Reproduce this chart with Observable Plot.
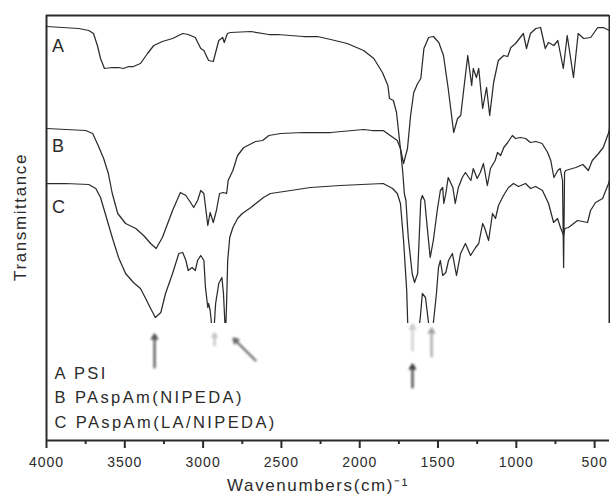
<!DOCTYPE html>
<html>
<head>
<meta charset="utf-8">
<script src="https://cdn.jsdelivr.net/npm/d3@7"></script>
<script src="https://cdn.jsdelivr.net/npm/@observablehq/plot@0.6"></script>
<style>
  html, body { margin: 0; padding: 0; background: #fff; overflow: hidden; }
  svg text { font-family: "Liberation Sans", Arial, sans-serif; }
  g[aria-label="arrow"] { filter: blur(1.1px); }
</style>
</head>
<body>
<div id="chart"></div>
<script>
// Wavenumber axis
const majorTicks = [4000, 3500, 3000, 2500, 2000, 1500, 1000, 500];
const minorTicks = [3750, 3250, 2750, 2250, 1750, 1250, 750];

// Spectrum A: PSI  [wavenumber (cm-1), transmittance (a.u., offset)]
const curveA = [
  [4000,414],[3795,412],[3730,410],[3700,407],[3675,395],[3655,382],[3630,372],[3580,373],[3540,373],
  [3510,372],[3475,374],[3445,374],[3400,377],[3355,387],[3315,395],[3260,399],[3195,402],[3130,407],
  [3095,406],[3050,403],[3015,392],[2995,390],[2965,380],[2935,379],[2920,388],[2900,400],[2875,403],
  [2865,398],[2845,407],[2825,408],[2695,409],[2580,406],[2525,406],[2360,404],[2270,404],[2185,401],
  [2080,397],[1975,390],[1910,382],[1855,368],[1820,355],[1810,342],[1785,340],[1765,328],[1740,292],
  [1720,277],[1695,292],[1675,325],[1655,348],[1630,357],[1610,362],[1590,392],[1560,403],[1530,404],
  [1495,398],[1465,385],[1435,352],[1400,308],[1375,322],[1355,325],[1335,352],[1310,385],[1285,355],
  [1275,372],[1255,363],[1240,372],[1215,332],[1190,353],[1170,325],[1145,358],[1115,380],[1080,385],
  [1055,384],[1035,393],[1005,397],[955,407],[935,392],[910,407],[875,412],[845,413],[815,392],
  [795,398],[760,395],[735,400],[700,372],[675,405],[635,363],[605,407],[570,402],[525,403],
  [480,413],[445,413],[405,410]
];

// Spectrum B: PAspAm(NIPEDA)
const curveB = [
  [4000,312],[3750,310],[3705,307],[3670,295],[3635,282],[3605,267],[3580,247],[3545,227],[3495,217],
  [3430,212],[3380,205],[3335,197],[3300,192],[3260,203],[3195,230],[3145,248],[3110,245],[3080,238],
  [3060,233],[3035,240],[3015,250],[2995,247],[2970,215],[2955,228],[2935,218],[2915,230],[2895,247],
  [2870,248],[2850,247],[2840,260],[2810,270],[2780,285],[2740,293],[2665,299],[2620,300],[2580,305],
  [2505,307],[2360,308],[2185,308],[1975,311],[1920,310],[1850,310],[1805,305],[1760,300],[1740,292],
  [1725,268],[1715,247],[1705,240],[1690,203],[1665,167],[1650,158],[1630,167],[1610,240],[1600,245],
  [1585,240],[1565,207],[1550,183],[1530,200],[1505,230],[1485,250],[1470,253],[1463,237],[1450,247],
  [1435,263],[1405,253],[1390,237],[1370,253],[1345,263],[1325,268],[1290,260],[1275,272],[1250,262],
  [1230,268],[1210,277],[1185,255],[1165,272],[1135,280],[1120,288],[1100,285],[1080,293],[1055,298],
  [1025,305],[1005,302],[975,303],[940,302],[910,298],[875,299],[835,297],[800,288],[780,280],
  [760,263],[735,270],[720,272],[705,260],[698,173],[692,268],[685,270],[620,273],[575,276],
  [540,270],[515,280],[475,287],[445,293],[410,308],[405,312]
];

// Spectrum C: PAspAm(LA/NIPEDA)
const curveC = [
  [4000,257],[3880,257],[3730,256],[3685,252],[3655,243],[3625,227],[3580,203],[3540,183],[3495,167],
  [3445,158],[3400,152],[3370,143],[3335,132],[3305,123],[3270,128],[3240,147],[3195,167],[3155,187],
  [3130,188],[3110,180],[3095,170],[3070,173],[3050,170],[3035,180],[3015,185],[2995,180],[2985,153],
  [2970,133],[2965,137],[2955,130],[2935,100],[2920,137],[2900,157],[2880,163],[2870,147],[2857,105],
  [2850,137],[2843,180],[2830,203],[2810,213],[2780,222],[2750,227],[2695,233],[2655,238],[2615,243],
  [2570,247],[2440,250],[2315,253],[2125,255],[1850,257],[1790,252],[1760,247],[1740,237],[1720,200],
  [1700,150],[1690,100],[1660,55],[1630,100],[1612,125],[1600,147],[1580,143],[1560,117],[1545,80],
  [1530,117],[1510,147],[1497,173],[1485,180],[1470,165],[1450,168],[1433,180],[1408,187],[1382,165],
  [1356,187],[1325,197],[1292,185],[1260,193],[1240,197],[1215,217],[1203,213],[1177,200],[1152,227],
  [1133,222],[1114,235],[1082,245],[1050,253],[1018,257],[986,254],[941,257],[909,252],[877,254],
  [833,250],[794,237],[762,218],[737,222],[718,213],[698,205],[690,212],[667,213],[609,220],[545,218],
  [526,230],[494,238],[449,242],[411,257],[405,260]
];

const curveNames = ["A", "B", "C"];
const curveLabelY = [394, 294, 233];
const legendLines = ["A PSI", "B PAspAm(NIPEDA)", "C PAspAm(LA/NIPEDA)"];
const legendY = [67, 43, 18];

// white inset (legend panel) in transmittance units
const panel = [{y1: 0, y2: 117}];

// blurred peak arrows in the inset
const arrows = [
  {x1: 3310, y1: 73, x2: 3310, y2: 106, o: 0.85},
  {x1: 2927, y1: 95, x2: 2927, y2: 107, o: 0.3},
  {x1: 2665, y1: 80, x2: 2806, y2: 102, o: 0.75},
  {x1: 1663, y1: 53, x2: 1663, y2: 76, o: 0.95},
  {x1: 1663, y1: 90, x2: 1663, y2: 116, o: 0.25},
  {x1: 1541, y1: 84, x2: 1541, y2: 112, o: 0.45}
];

const ink = "#2b2b2b";
const lineOf = (data) => Plot.line(data, {x: d => d[0], y: d => d[1], stroke: ink, strokeWidth: 1.25});

const chart = Plot.plot({
  width: 610,
  height: 501,
  marginLeft: 46,
  marginRight: 1,
  marginTop: 15,
  marginBottom: 61,
  x: {domain: [4000, 405]},
  y: {domain: [0, 425], axis: null},
  style: {background: "#fff", color: ink},
  marks: [
    lineOf(curveA),
    lineOf(curveB),
    lineOf(curveC),
    Plot.rect(panel, {x1: 4000, x2: 405, y1: "y1", y2: "y2", fill: "#fff", insetLeft: 1}),
    Plot.arrow(arrows, {x1: "x1", y1: "y1", x2: "x2", y2: "y2", stroke: "#333", strokeOpacity: d => d.o, strokeWidth: 2.2, headLength: 3.5}),
    Plot.ruleX([4000], {stroke: ink, strokeWidth: 2}),
    Plot.ruleY([425], {stroke: ink, strokeWidth: 2}),
    Plot.ruleX([405], {y1: 117, y2: 425, stroke: ink, strokeWidth: 2}),
    Plot.ruleY([0], {stroke: ink, strokeWidth: 2}),
    Plot.axisX(majorTicks, {tickSize: 8, tickPadding: 9, fontSize: 14, strokeWidth: 2, label: null, tickFormat: d => String(d)}),
    Plot.axisX(minorTicks, {tickSize: 4, strokeWidth: 2, label: null, tickFormat: () => ""}),
    Plot.text(curveNames, {x: 3965, y: (d, i) => curveLabelY[i], text: d => d, textAnchor: "start", fontSize: 18, fill: ink}),
    Plot.text(legendLines, {x: 3949, y: (d, i) => legendY[i], text: d => d, textAnchor: "start", fontSize: 16.5, fill: ink}),
    Plot.text(["Wavenumbers(cm)\u207B\u00B9"], {frameAnchor: "bottom", dx: -10, dy: 50, fontSize: 17, fill: ink}),
    Plot.text(["Transmittance"], {frameAnchor: "left", textAnchor: "middle", dx: -26, dy: -11, rotate: -90, fontSize: 17, fill: ink})
  ]
});

document.getElementById("chart").appendChild(chart);
// widen lettering to match the reference's stretched typography
const sel = d3.select(chart);
sel.selectAll('g[aria-label="text"] text').style("letter-spacing", "1.6px");
sel.selectAll('g[aria-label="text"]').filter((d, i) => i === 1).selectAll("text").style("letter-spacing", "2.4px");
sel.selectAll('g[aria-label="x-axis tick label"] text').style("letter-spacing", "1px");
</script>
</body>
</html>
